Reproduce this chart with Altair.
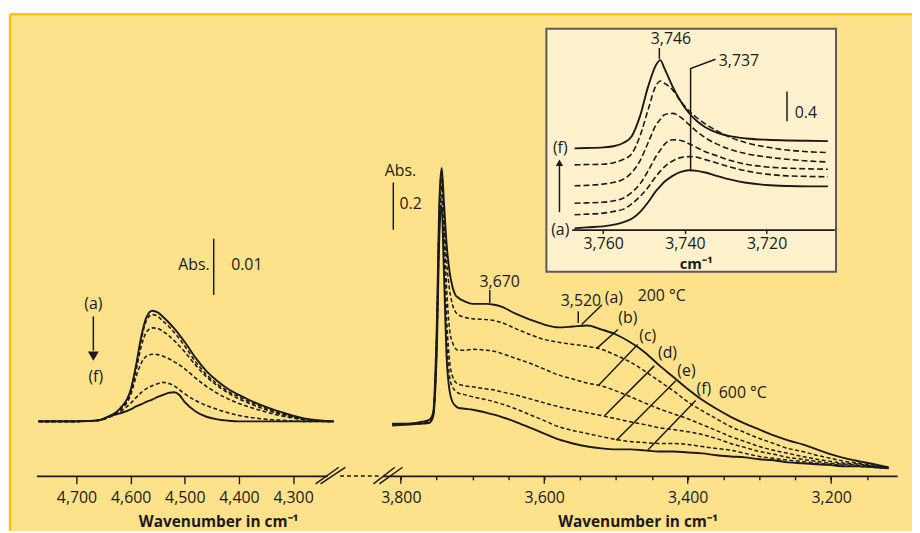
import altair as alt
import pandas as pd

FONT = "Open Sans"
INK = "#1a1a1a"
YELLOW = "#FDE28B"
CREAM = "#FFF1CB"
ORANGE = "#FBC400"
FRAME = "#5a5a5a"

W, H = 910, 521

# ---------------- left panel: 4,770-4,225 cm-1 (absorbance in mAbs) ----------------
left_wn = [4770, 4700, 4660, 4640, 4620, 4600, 4590, 4580, 4570, 4560, 4550, 4540, 4530, 4520,
           4510, 4500, 4480, 4460, 4440, 4420, 4400, 4380, 4360, 4340, 4320, 4300, 4280, 4260, 4240, 4225]
left_a = [0, 0, 0.18, 0.88, 2.23, 5.59, 9.99, 15.29, 18.70, 19.69, 19.40, 18.58, 17.64, 16.58, 15.40,
          14.11, 11.29, 8.94, 7.17, 5.76, 4.70, 3.76, 2.94, 2.23, 1.59, 1.00, 0.53, 0.24, 0.06, 0]
left_b = [0, 0, 0.18, 0.88, 2.23, 5.41, 9.70, 14.82, 18.11, 18.99, 18.70, 17.81, 16.93, 15.87, 14.70,
          13.40, 10.58, 8.35, 6.64, 5.35, 4.35, 3.47, 2.70, 2.00, 1.35, 0.82, 0.41, 0.18, 0.06, 0]
left_c = [0, 0, 0.18, 0.82, 2.12, 5.17, 9.11, 13.52, 15.99, 16.64, 16.52, 15.99, 15.29, 14.40, 13.40,
          12.35, 9.99, 7.94, 6.35, 5.06, 4.00, 3.17, 2.41, 1.76, 1.18, 0.71, 0.35, 0.12, 0, 0]
left_d = [0, 0, 0.18, 0.76, 1.94, 4.70, 7.94, 10.46, 11.64, 11.93, 11.88, 11.58, 11.17, 10.64, 10.05,
          9.35, 7.70, 6.23, 5.00, 4.00, 3.17, 2.53, 1.94, 1.41, 0.94, 0.59, 0.29, 0.12, 0, 0]
left_e = [0, 0, 0.18, 0.71, 1.65, 3.23, 4.23, 5.17, 5.88, 6.35, 6.70, 6.94, 6.76, 6.35, 5.64,
          4.88, 3.70, 2.82, 2.12, 1.53, 1.06, 0.71, 0.47, 0.29, 0.18, 0.06, 0, 0, 0, 0]
left_f = [0, 0, 0.18, 0.88, 1.41, 2.12, 2.65, 3.06, 3.53, 3.88, 4.35, 4.70, 5.06, 5.17, 4.70,
          3.41, 1.76, 0.82, 0.35, 0.12, 0, 0, 0, 0, 0, 0, 0, 0, 0, 0]

# ---------------- main panel: 3,812-3,120 cm-1 (absorbance) ----------------
main_wn = [3812, 3790, 3770, 3760, 3755, 3750, 3746, 3743, 3740, 3736, 3732, 3728, 3724, 3720, 3710,
           3700, 3680, 3670, 3660, 3640, 3620, 3600, 3580, 3560, 3540, 3520, 3500, 3480, 3460, 3440,
           3420, 3400, 3380, 3360, 3340, 3320, 3300, 3280, 3260, 3240, 3220, 3200, 3180, 3160, 3140, 3120]
main_a = [.189, .189, .197, .206, .235, .588, 1.155, 1.273, 1.134, .945, .832, .769, .735, .723, .706,
          .697, .697, .693, .685, .655, .630, .609, .597, .601, .605, .588, .567, .534, .492, .437,
          .387, .336, .290, .252, .218, .189, .164, .139, .118, .101, .080, .059, .042, .029, .017, .004]
main_b = [.189, .189, .193, .202, .231, .567, 1.134, 1.252, 1.084, .874, .756, .693, .664, .651, .639,
          .634, .630, .626, .618, .592, .567, .546, .534, .525, .517, .504, .479, .450, .412, .370,
          .328, .282, .244, .210, .176, .151, .126, .105, .084, .071, .055, .042, .029, .021, .013, .004]
main_c = [.185, .189, .193, .202, .227, .546, 1.113, 1.227, 1.029, .756, .588, .534, .508, .500, .500,
          .504, .500, .496, .487, .466, .445, .420, .395, .378, .361, .349, .328, .303, .277, .252,
          .231, .210, .185, .160, .134, .113, .092, .076, .063, .050, .038, .029, .021, .017, .008, .004]
main_d = [.189, .185, .193, .197, .227, .525, 1.084, 1.197, .966, .630, .454, .391, .366, .357, .349,
          .345, .336, .332, .324, .311, .294, .277, .261, .248, .235, .223, .210, .197, .185, .172,
          .164, .155, .143, .126, .105, .088, .071, .059, .046, .038, .029, .021, .017, .013, .008, 0]
main_e = [.185, .189, .189, .197, .223, .504, 1.050, 1.155, .903, .546, .387, .345, .328, .319, .311,
          .303, .290, .282, .273, .252, .227, .202, .176, .160, .147, .134, .122, .113, .109, .105,
          .105, .101, .092, .084, .076, .063, .050, .042, .034, .029, .021, .017, .013, .008, .004, 0]
main_f = [.181, .185, .189, .193, .218, .483, 1.008, 1.113, .840, .462, .328, .282, .265, .256, .252,
          .248, .235, .227, .218, .197, .172, .147, .122, .105, .092, .084, .080, .080, .076, .071,
          .071, .067, .063, .055, .050, .046, .038, .034, .025, .021, .017, .013, .008, .008, .004, 0]

# ---------------- inset: 3,767-3,705 cm-1 (absorbance) ----------------
inset_wn = [3767, 3764, 3760, 3757, 3755, 3753, 3751, 3749, 3747, 3746, 3745, 3743, 3741, 3739,
            3737, 3735, 3732, 3729, 3725, 3720, 3715, 3710, 3705]
inset_a = [.018, .031, .044, .071, .102, .147, .236, .369, .524, .587, .644, .724, .778, .800,
           .791, .769, .720, .676, .631, .600, .587, .582, .582]
inset_b = [.200, .209, .222, .249, .276, .347, .444, .569, .724, .787, .844, .924, .969, .982,
           .973, .942, .893, .844, .791, .747, .724, .716, .711]
inset_c = [.356, .360, .369, .391, .427, .502, .613, .791, .991, 1.071, 1.147, 1.209, 1.200, 1.156,
           1.102, 1.049, .991, .933, .880, .844, .827, .818, .813]
inset_d = [.591, .596, .613, .640, .680, .769, .924, 1.169, 1.413, 1.484, 1.547, 1.564, 1.511, 1.413,
           1.316, 1.236, 1.147, 1.080, 1.022, .978, .947, .924, .911]
inset_e = [.871, .876, .880, .907, .947, 1.022, 1.258, 1.613, 1.947, 2.000, 1.969, 1.880, 1.724, 1.600,
           1.502, 1.422, 1.324, 1.244, 1.169, 1.111, 1.071, 1.049, 1.036]
inset_f = [1.093, 1.098, 1.107, 1.129, 1.169, 1.258, 1.524, 1.924, 2.222, 2.280, 2.169, 1.924, 1.724,
           1.569, 1.458, 1.378, 1.302, 1.258, 1.227, 1.209, 1.200, 1.196, 1.191]

# ---------------- axis ticks ----------------
left_ticks = [4700, 4600, 4500, 4400, 4300]
main_ticks = [3800, 3750, 3700, 3650, 3600, 3550, 3500, 3450, 3400, 3350, 3300, 3250, 3200, 3150]
main_major = [3800, 3600, 3400, 3200]
inset_ticks = [3760, 3740, 3720]
axis_title = "Wavenumber in cm⁻¹"

# ---------------- annotations (data coordinates) ----------------
main_lbl_text = ["3,670", "3,520", "(a)", "(b)", "(c)", "(d)", "(e)", "(f)"]
main_lbl_wn = [3662.2, 3548.9, 3503.0, 3483.5, 3455.8, 3428.2, 3401.7, 3377.5]
main_lbl_v = [0.791, 0.707, 0.721, 0.637, 0.560, 0.490, 0.413, 0.336]
main_note_text = ["200 °C", "600 °C", "Abs.", "0.2"]
main_note_wn = [3469.7, 3356.7, 3822.5, 3801.8]
main_note_v = [0.731, 0.319, 1.258, 1.121]
main_seg_wn = [3676.0, 3552.6, 3519.4, 3497.3, 3469.7, 3446.6, 3416.6, 3388.9, 3810.5]
main_seg_wn2 = [3676.0, 3552.6, 3547.9, 3527.2, 3524.9, 3515.7, 3499.5, 3455.8, 3810.5]
main_seg_v = [0.756, 0.665, 0.693, 0.588, 0.525, 0.434, 0.371, 0.287, 1.011]
main_seg_v2 = [0.700, 0.616, 0.609, 0.507, 0.350, 0.224, 0.119, 0.076, 1.211]

left_lbl_text = ["(a)", "(f)"]
left_lbl_wn = [4668.9, 4664.5]
left_lbl_v = [20.8, 7.8]
left_abs_wn, left_abs_v = 4453.9, 27.8
left_val_wn, left_val_v = 4414.4, 27.8
left_bar_wn, left_bar_v, left_bar_v2 = 4446.6, 22.5, 32.5
left_arrow_wn, left_arrow_v, left_arrow_v2, left_head_v = 4668.9, 18.7, 12.6, 11.6

inset_lbl_text = ["3,746", "(f)", "(a)"]
inset_lbl_wn = [3743.4, 3770.5, 3770.5]
inset_lbl_v = [2.56, 1.101, 0.0]
inset_note_text = ["3,737", "0.4"]
inset_note_wn = [3731.7, 3713.1]
inset_note_v = [2.267, 1.568]
inset_seg_wn = [3746.25, 3715.0, 3770.7]
inset_seg_v = [2.444, 1.457, 0.235]
inset_seg_v2 = [2.297, 1.857, 0.857]
inset_lead_wn = [3738.6, 3738.6, 3732.5]
inset_lead_v = [0.8, 2.168, 2.293]
inset_head_wn, inset_head_v = 3770.7, 0.90
inset_box_wn, inset_box_wn2 = 3773.9, 3703.0
inset_box_v, inset_box_v2 = -0.565, 2.701

# ---------------- scales ----------------
def lin(domain, rng):
    return alt.Scale(domain=domain, range=rng, zero=False, nice=False)

sx_left = lin([4774, 4237], [26.7, 320])
sy_left = lin([0, 10], [410.7, 354.0])
sx_main = lin([3825.3, 3108], [376, 895])
sy_main = lin([0, 1], [458, 220])
sx_in = lin([3767.7, 3703.4], [566.7, 831.7])
sy_in = lin([0, 1], [217.3, 142.3])

TXT = 16


def long_df(wn, curves):
    rows = []
    for name, vals in curves.items():
        for i, (w, v) in enumerate(zip(wn, vals)):
            rows.append({"curve": name, "i": i, "wn": w, "v": v})
    return pd.DataFrame(rows)


def curves(df, sx, sy, dash=None, width=1.7, axis=None):
    kw = dict(color=INK, strokeWidth=width, interpolate="monotone")
    if dash:
        kw["strokeDash"] = dash
    x = alt.X("wn:Q", scale=sx, axis=axis if axis is not None else None)
    return alt.Chart(df).mark_line(**kw).encode(
        x=x, y=alt.Y("v:Q", scale=sy, axis=None), detail="curve:N", order="i:Q")


def texts(txt, wn, v, sx, sy, align="center", size=TXT):
    df = pd.DataFrame({"t": txt, "wn": wn, "v": v})
    return alt.Chart(df).mark_text(font=FONT, fontSize=size, color=INK, align=align,
                                   baseline="middle").encode(
        x=alt.X("wn:Q", scale=sx, axis=None), y=alt.Y("v:Q", scale=sy, axis=None), text="t:N")


def segs(wn, wn2, v, v2, sx, sy, width=1.5):
    df = pd.DataFrame({"wn": wn, "wn2": wn2, "v": v, "v2": v2})
    return alt.Chart(df).mark_rule(color=INK, strokeWidth=width).encode(
        x=alt.X("wn:Q", scale=sx, axis=None), x2="wn2:Q",
        y=alt.Y("v:Q", scale=sy, axis=None), y2="v2:Q")


def bottom_axis(offset, values, tick, pad, title, title_x, title_y, title_size=15.5, **extra):
    return alt.Axis(orient="bottom", offset=offset, values=values, format=",d", grid=False,
                    domainColor=INK, domainWidth=1.8, tickColor=INK, tickWidth=1.4, tickSize=tick,
                    labelFont=FONT, labelFontSize=TXT, labelColor=INK, labelPadding=pad,
                    labelFlush=False, labelOverlap=False, title=title, titleFont=FONT,
                    titleFontSize=title_size, titleFontWeight="bold", titleColor=INK,
                    titleX=title_x, titleY=title_y, titleBaseline="alphabetic", titleAlign="center",
                    zindex=1, **extra)


one = pd.DataFrame({"k": [0]})
AX_Y = 465.7  # view y of the main axis line

# ---------------- layers ----------------
layers = []

# frame of yellow panel (top and left orange edge)
layers.append(alt.Chart(one).mark_rule(color=ORANGE, strokeWidth=2.4).encode(
    x=alt.value(0), x2=alt.value(W), y=alt.value(0)))
layers.append(alt.Chart(one).mark_rule(color=ORANGE, strokeWidth=2.4).encode(
    x=alt.value(0), y=alt.value(0), y2=alt.value(H)))

# inset box
box = pd.DataFrame({"wn": [inset_box_wn], "wn2": [inset_box_wn2], "v": [inset_box_v], "v2": [inset_box_v2]})
layers.append(alt.Chart(box).mark_rect(fill=CREAM, stroke=FRAME, strokeWidth=2).encode(
    x=alt.X("wn:Q", scale=sx_in, axis=None), x2="wn2:Q",
    y=alt.Y("v:Q", scale=sy_in, axis=None), y2="v2:Q"))

# left panel curves + axis
left_solid = long_df(left_wn, {"a": left_a, "f": left_f})
left_dash = long_df(left_wn, {"b": left_b, "c": left_c, "d": left_d, "e": left_e})
layers.append(curves(left_dash, sx_left, sy_left, dash=[4, 2.5], width=1.6))
layers.append(curves(left_solid, sx_left, sy_left, width=1.9,
                     axis=bottom_axis(AX_Y - H, left_ticks, 8, 6, axis_title, 210, 51)))

# main panel curves + axis
main_solid = long_df(main_wn, {"a": main_a, "f": main_f})
main_dash = long_df(main_wn, {"b": main_b, "c": main_c, "d": main_d, "e": main_e})
layers.append(curves(main_dash, sx_main, sy_main, dash=[4, 2.5], width=1.5))
layers.append(curves(main_solid, sx_main, sy_main, width=1.9,
                     axis=bottom_axis(AX_Y - H, main_ticks, 4, 10, axis_title, 633, 51,
                                      labelExpr="datum.value % 200 === 0 ? datum.label : ''")))
# longer major ticks on the main axis
layers.append(alt.Chart(pd.DataFrame({"wn": main_major})).mark_rule(color=INK, strokeWidth=1.4).encode(
    x=alt.X("wn:Q", scale=sx_main, axis=None), y=alt.value(AX_Y), y2=alt.value(AX_Y + 8)))

# axis break marks
for (x1, y1, x2, y2) in [(308.3, 473.7, 331.7, 457), (313.3, 473.7, 338.3, 457),
                         (366.7, 473.7, 388.3, 457), (372.7, 473.7, 396, 457)]:
    layers.append(alt.Chart(one).mark_rule(color=INK, strokeWidth=1.5).encode(
        x=alt.value(x1), x2=alt.value(x2), y=alt.value(y1), y2=alt.value(y2)))
layers.append(alt.Chart(one).mark_rule(color=INK, strokeWidth=1.5, strokeDash=[4, 3]).encode(
    x=alt.value(333), x2=alt.value(374), y=alt.value(AX_Y)))

# inset curves + axis
inset_solid = long_df(inset_wn, {"a": inset_a, "f": inset_f})
inset_dash = long_df(inset_wn, {"b": inset_b, "c": inset_c, "d": inset_d, "e": inset_e})
layers.append(curves(inset_dash, sx_in, sy_in, dash=[6, 3], width=1.6))
layers.append(curves(inset_solid, sx_in, sy_in, width=1.9,
                     axis=bottom_axis(217.3 - H, inset_ticks, 4, 2, "cm⁻¹", 691.7, 39,
                                      title_size=15)))

# main annotations
layers.append(segs(main_seg_wn, main_seg_wn2, main_seg_v, main_seg_v2, sx_main, sy_main))
layers.append(texts(main_lbl_text, main_lbl_wn, main_lbl_v, sx_main, sy_main))
layers.append(texts(main_note_text, main_note_wn, main_note_v, sx_main, sy_main, align="left"))

# left annotations
layers.append(texts(left_lbl_text, left_lbl_wn, left_lbl_v, sx_left, sy_left))
layers.append(texts(["Abs."], [left_abs_wn], [left_abs_v], sx_left, sy_left, align="right"))
layers.append(texts(["0.01"], [left_val_wn], [left_val_v], sx_left, sy_left, align="left"))
layers.append(segs([left_bar_wn, left_arrow_wn], [left_bar_wn, left_arrow_wn],
                   [left_bar_v, left_arrow_v], [left_bar_v2, left_arrow_v2], sx_left, sy_left))
layers.append(alt.Chart(pd.DataFrame({"wn": [left_arrow_wn], "v": [left_head_v]})).mark_point(
    shape="triangle-down", filled=True, color=INK, size=120, opacity=1).encode(
    x=alt.X("wn:Q", scale=sx_left, axis=None), y=alt.Y("v:Q", scale=sy_left, axis=None)))

# inset annotations
layers.append(segs(inset_seg_wn, inset_seg_wn, inset_seg_v, inset_seg_v2, sx_in, sy_in))
lead = pd.DataFrame({"i": [0, 1, 2], "wn": inset_lead_wn, "v": inset_lead_v})
layers.append(alt.Chart(lead).mark_line(color=INK, strokeWidth=1.5).encode(
    x=alt.X("wn:Q", scale=sx_in, axis=None), y=alt.Y("v:Q", scale=sy_in, axis=None), order="i:Q"))
layers.append(alt.Chart(pd.DataFrame({"wn": [inset_head_wn], "v": [inset_head_v]})).mark_point(
    shape="triangle-up", filled=True, color=INK, size=55, opacity=1).encode(
    x=alt.X("wn:Q", scale=sx_in, axis=None), y=alt.Y("v:Q", scale=sy_in, axis=None)))
layers.append(texts(inset_lbl_text, inset_lbl_wn, inset_lbl_v, sx_in, sy_in))
layers.append(texts(inset_note_text, inset_note_wn, inset_note_v, sx_in, sy_in, align="left"))

chart = alt.layer(*layers).resolve_scale(x="independent", y="independent").properties(
    width=W, height=H,
    padding={"left": 2, "top": 4, "right": 0, "bottom": 0},
    autosize=alt.AutoSizeParams(type="none"),
).configure(background="white").configure_view(fill=YELLOW, stroke="transparent")

chart.save("out.html", embed_options={"renderer": "svg", "actions": False})
